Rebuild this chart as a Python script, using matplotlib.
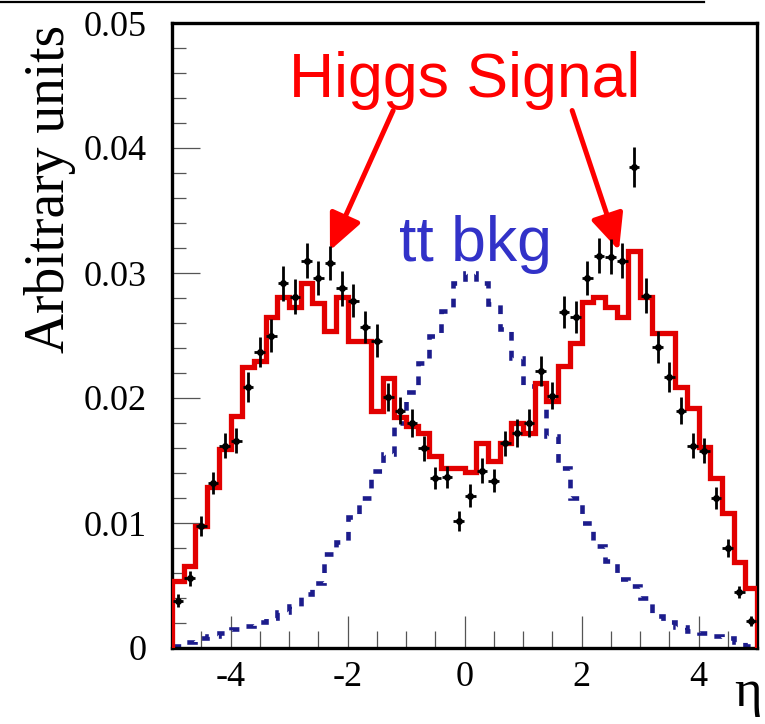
import numpy as np
import matplotlib
matplotlib.use("Agg")
import matplotlib.pyplot as plt
from matplotlib.ticker import MultipleLocator, FuncFormatter
from matplotlib.lines import Line2D

# Pseudorapidity binning: 50 bins of width 0.2 over [-5, 5]
eta_edges = np.linspace(-5.0, 5.0, 51)
eta_centers = 0.5 * (eta_edges[:-1] + eta_edges[1:])

# Higgs signal expectation (histogram)
higgs_signal = [
    0.0054, 0.0066, 0.0098, 0.0129, 0.0159, 0.0186, 0.0225, 0.0230, 0.0265, 0.0281,
    0.0273, 0.0292, 0.0276, 0.0254, 0.0281, 0.0246, 0.0246, 0.0190, 0.0216, 0.0185,
    0.0178, 0.0172, 0.0154, 0.0144, 0.0144, 0.0141, 0.0164, 0.0150, 0.0164, 0.0180,
    0.0172, 0.0212, 0.0198, 0.0226, 0.0244, 0.0277, 0.0281, 0.0273, 0.0265, 0.0318,
    0.0281, 0.0252, 0.0252, 0.0209, 0.0192, 0.0161, 0.0136, 0.0108, 0.0069, 0.0048,
]

# Simulated points with statistical errors
points = [
    0.0038, 0.0056, 0.0098, 0.0132, 0.0162, 0.0166, 0.0209, 0.0237, 0.0250, 0.0292,
    0.0281, 0.0310, 0.0296, 0.0308, 0.0288, 0.0278, 0.0257, 0.0246, 0.0201, 0.0190,
    0.0180, 0.0160, 0.0136, 0.0137, 0.0102, 0.0122, 0.0142, 0.0134, 0.0164, 0.0172,
    0.0180, 0.0222, 0.0202, 0.0269, 0.0265, 0.0296, 0.0314, 0.0313, 0.0310, 0.0385,
    0.0282, 0.0241, 0.0217, 0.0190, 0.0162, 0.0158, 0.0120, 0.0080, 0.0045, 0.0022,
]
point_errors = [
    0.0005, 0.0006, 0.0008, 0.0009, 0.0010, 0.0010, 0.0012, 0.0012, 0.0013, 0.0014,
    0.0014, 0.0014, 0.0014, 0.0014, 0.0014, 0.0013, 0.0013, 0.0013, 0.0011, 0.0011,
    0.0011, 0.0010, 0.0009, 0.0009, 0.0008, 0.0009, 0.0010, 0.0009, 0.0010, 0.0011,
    0.0011, 0.0012, 0.0011, 0.0013, 0.0013, 0.0014, 0.0014, 0.0014, 0.0014, 0.0016,
    0.0014, 0.0013, 0.0012, 0.0011, 0.0010, 0.0010, 0.0009, 0.0007, 0.0005, 0.0004,
]

# ttbar background shape
tt_background = [
    0.0002, 0.0005, 0.0008, 0.0010, 0.0012, 0.0015, 0.0018, 0.0021, 0.0024, 0.0029,
    0.0034, 0.0043, 0.0052, 0.0075, 0.0085, 0.0105, 0.0120, 0.0142, 0.0155, 0.0180,
    0.0205, 0.0228, 0.0250, 0.0270, 0.0292, 0.0300, 0.0292, 0.0275, 0.0255, 0.0232,
    0.0210, 0.0192, 0.0170, 0.0144, 0.0120, 0.0100, 0.0082, 0.0070, 0.0055, 0.0050,
    0.0040, 0.0026, 0.0021, 0.0017, 0.0014, 0.0012, 0.0010, 0.0008, 0.0005, 0.0002,
]

x_major = [-4, -2, 0, 2, 4]
y_major = [0.0, 0.01, 0.02, 0.03, 0.04, 0.05]

plt.rcParams["axes.unicode_minus"] = False
serif = ["Liberation Serif", "DejaVu Serif"]
sans = ["Liberation Sans", "DejaVu Sans"]

W, H = 765, 724
fig = plt.figure(figsize=(W / 100, H / 100), dpi=100)
ax = fig.add_axes([172 / W, 1 - 648 / H, 585 / W, 625 / H])

ax.stairs(higgs_signal, eta_edges, baseline=0, color="#e20000", lw=3.8, zorder=3)
ax.stairs(tt_background, eta_edges, baseline=None, color="#1c1c8c", lw=3.3,
          linestyle=(0, (1.9, 2.2)), zorder=2)
ax.errorbar(eta_centers, points, yerr=point_errors, xerr=0.09, fmt="o",
            color="black", ms=4, elinewidth=2.0, capsize=0, zorder=4)

ax.set_xlim(-5, 5)
ax.set_ylim(0, 0.05)

ax.xaxis.set_major_locator(plt.FixedLocator(x_major))
ax.xaxis.set_minor_locator(MultipleLocator(0.5))
ax.yaxis.set_major_locator(plt.FixedLocator(y_major))
ax.yaxis.set_minor_locator(MultipleLocator(0.002))
ax.yaxis.set_major_formatter(FuncFormatter(lambda v, p: "0" if abs(v) < 1e-9 else f"{v:.2f}"))
ax.xaxis.set_major_formatter(FuncFormatter(lambda v, p: f"{v:g}"))

ax.tick_params(axis="both", which="both", direction="in", color="#555555", width=0.9,
               top=False, right=False)
ax.tick_params(axis="y", which="major", length=20, pad=18)
ax.tick_params(axis="y", which="minor", length=10)
ax.tick_params(axis="x", which="major", length=23, pad=9)
ax.tick_params(axis="x", which="minor", length=12)
for lab in ax.get_xticklabels() + ax.get_yticklabels():
    lab.set_fontfamily(serif)
    lab.set_fontsize(26)

for side in ["left", "bottom", "top", "right"]:
    ax.spines[side].set_linewidth(2.4)
    ax.spines[side].set_color("black")

fig.text(50 / W, 1 - 189 / H, "Arbitrary units", rotation=90, ha="center", va="center",
         fontsize=40, family=serif)
fig.text(748 / W, 1 - 693 / H, "η", ha="center", va="center", fontsize=38, family=serif)

ax.text(0.0, 0.0441, "Higgs Signal", color="#ff0000", fontsize=45, family=sans,
        ha="center", va="baseline", zorder=5)
ax.text(0.18, 0.0310, "tt bkg", color="#3232c8", fontsize=45, family=sans,
        ha="center", va="baseline", zorder=5)

arrow_kw = dict(arrowstyle="-|>,head_length=1.1,head_width=0.5", color="#ff0000",
                lw=3.6, mutation_scale=20, shrinkA=0, shrinkB=0)
ax.annotate("", xy=(-2.30, 0.0318), xytext=(-1.22, 0.0430), arrowprops=arrow_kw)
ax.annotate("", xy=(2.64, 0.0318), xytext=(1.84, 0.0430), arrowprops=arrow_kw)

fig.add_artist(Line2D([0, 0.92], [1 - 1.5 / H, 1 - 1.5 / H], color="black", lw=1.6,
                      transform=fig.transFigure))

fig.savefig("out.png", dpi=100)
